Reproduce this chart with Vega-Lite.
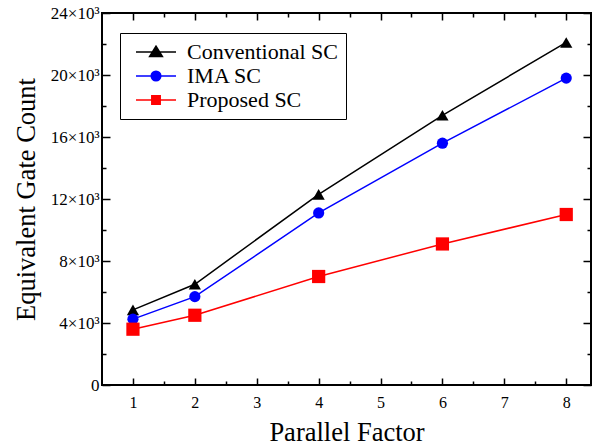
{
  "$schema": "https://vega.github.io/schema/vega-lite/v6.json",
  "width": 489,
  "height": 372,
  "autosize": {"type": "none"},
  "padding": {"left": 102, "top": 13, "right": 3, "bottom": 61},
  "config": {
    "font": "Liberation Serif",
    "view": {"stroke": "black", "strokeWidth": 2},
    "axis": {
      "domain": false,
      "grid": false,
      "tickColor": "black",
      "tickWidth": 1.5,
      "labelColor": "black",
      "titleColor": "black",
      "labelFont": "Liberation Serif",
      "titleFont": "Liberation Serif",
      "titleFontWeight": "normal",
      "labelFontSize": 16,
      "titleFontSize": 26.5
    }
  },
  "data": {
    "values": [
      {"series": "Conventional SC", "factor": 1, "count": 4850},
      {"series": "Conventional SC", "factor": 2, "count": 6500},
      {"series": "Conventional SC", "factor": 4, "count": 12300},
      {"series": "Conventional SC", "factor": 6, "count": 17400},
      {"series": "Conventional SC", "factor": 8, "count": 22100},
      {"series": "IMA SC", "factor": 1, "count": 4250},
      {"series": "IMA SC", "factor": 2, "count": 5700},
      {"series": "IMA SC", "factor": 4, "count": 11100},
      {"series": "IMA SC", "factor": 6, "count": 15600},
      {"series": "IMA SC", "factor": 8, "count": 19800},
      {"series": "Proposed SC", "factor": 1, "count": 3600},
      {"series": "Proposed SC", "factor": 2, "count": 4500},
      {"series": "Proposed SC", "factor": 4, "count": 7000},
      {"series": "Proposed SC", "factor": 6, "count": 9100},
      {"series": "Proposed SC", "factor": 8, "count": 11000}
    ]
  },
  "encoding": {
    "color": {
      "field": "series",
      "type": "nominal",
      "scale": {"domain": ["Conventional SC", "IMA SC", "Proposed SC"], "range": ["#000000", "#0000ff", "#ff0000"]},
      "legend": {
        "orient": "none",
        "legendX": 18,
        "legendY": 20,
        "title": null,
        "strokeColor": "black",
        "fillColor": "white",
        "padding": 8,
        "symbolOffset": 17,
        "labelOffset": 20,
        "labelFontSize": 22,
        "labelFont": "Liberation Serif",
        "labelColor": "black",
        "rowPadding": 2,
        "symbolSize": 400,
        "symbolOpacity": 1,
        "encoding": {
          "symbols": {
            "shape": {"value": {"expr": "datum.value === 'Conventional SC' ? 'M-2,0H2M0,-0.58L0.64,0.45L-0.64,0.45Z' : datum.value === 'IMA SC' ? 'M-2,0H2M-0.48,0A0.48,0.48 0 1,0 0.48,0A0.48,0.48 0 1,0 -0.48,0Z' : 'M-2,0H2M-0.42,-0.42H0.42V0.42H-0.42Z'"}},
            "fill": {"value": {"expr": "scale('color', datum.value)"}},
            "stroke": {"value": {"expr": "scale('color', datum.value)"}},
            "strokeWidth": {"value": 1.5},
            "size": {"value": 400},
            "opacity": {"value": 1},
            "fillOpacity": {"value": 1}
          }
        }
      }
    }
  },
  "layer": [
    {
      "mark": {"type": "line", "strokeWidth": 1.5},
      "encoding": {
        "x": {
          "field": "factor",
          "type": "quantitative",
          "scale": {"domain": [0.5, 8.4], "nice": false, "zero": false},
          "axis": {
            "orient": "bottom",
            "title": "Parallel Factor",
            "values": [1, 1.5, 2, 2.5, 3, 3.5, 4, 4.5, 5, 5.5, 6, 6.5, 7, 7.5, 8],
            "labelExpr": "datum.value % 1 === 0 ? '' + datum.value : ''",
            "tickSize": {"condition": {"test": "datum.value % 1 === 0", "value": -7}, "value": -4},
            "labelPadding": 16,
            "titlePadding": 9
          }
        },
        "y": {
          "field": "count",
          "type": "quantitative",
          "scale": {"domain": [0, 24000], "nice": false},
          "axis": {
            "orient": "left",
            "title": "Equivalent Gate Count",
            "values": [0, 2000, 4000, 6000, 8000, 10000, 12000, 14000, 16000, 18000, 20000, 22000, 24000],
            "labelExpr": "datum.value === 0 ? '0' : datum.value % 4000 === 0 ? (datum.value / 1000) + '×10³' : ''",
            "labelFontSize": 17,
            "tickSize": {"condition": {"test": "datum.value % 4000 === 0", "value": -8}, "value": -4},
            "labelPadding": 11,
            "titlePadding": 10
          }
        }
      }
    },
    {
      "mark": {"type": "point", "filled": true, "opacity": 1},
      "encoding": {
        "x": {
          "field": "factor",
          "type": "quantitative",
          "scale": {"domain": [0.5, 8.4], "nice": false, "zero": false},
          "axis": {
            "orient": "top",
            "title": null,
            "labels": false,
            "values": [1, 1.5, 2, 2.5, 3, 3.5, 4, 4.5, 5, 5.5, 6, 6.5, 7, 7.5, 8],
            "tickSize": {"condition": {"test": "datum.value % 1 === 0", "value": -7}, "value": -4}
          }
        },
        "y": {
          "field": "count",
          "type": "quantitative",
          "scale": {"domain": [0, 24000], "nice": false},
          "axis": {
            "orient": "right",
            "title": null,
            "labels": false,
            "values": [0, 2000, 4000, 6000, 8000, 10000, 12000, 14000, 16000, 18000, 20000, 22000, 24000],
            "tickSize": {"condition": {"test": "datum.value % 4000 === 0", "value": -8}, "value": -4}
          }
        },
        "shape": {
          "field": "series",
          "type": "nominal",
          "scale": {"domain": ["IMA SC", "Conventional SC", "Proposed SC"], "range": ["circle", "triangle-up", "square"]},
          "legend": null
        },
        "size": {
          "field": "series",
          "type": "nominal",
          "scale": {"domain": ["IMA SC", "Conventional SC", "Proposed SC"], "range": [125, 175, 95]},
          "legend": null
        }
      }
    }
  ],
  "resolve": {"axis": {"x": "independent", "y": "independent"}}
}
